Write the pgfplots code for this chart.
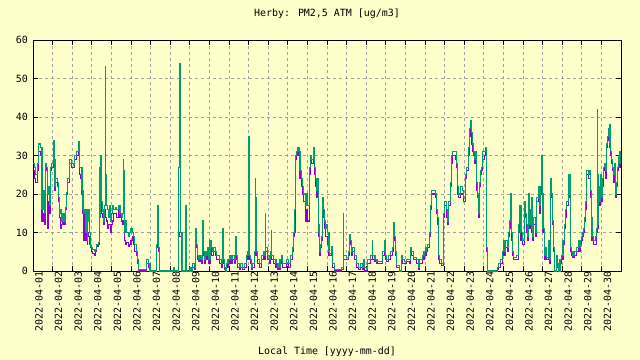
\documentclass[border=0pt]{standalone}
\usepackage{fontspec}
\setmainfont{DejaVu Sans Mono}
\usepackage{pgfplots}
\usepackage{pgfplotstable}
\pgfplotsset{compat=1.18}
\definecolor{bgy}{HTML}{FFFFCC}
\definecolor{gpurple}{HTML}{9400D3}
\definecolor{ggreen}{HTML}{009E73}
\definecolor{ggrid}{HTML}{A0A0A0}
\pgfplotstableread{
x g p
0.00 28 26
0.08 27 24
0.15 25 23
0.22 28 26
0.30 33 31
0.40 32 30
0.46 16 13
0.52 21 15
0.58 15 12
0.62 28 27
0.70 27 26
0.75 20 11
0.79 22 18
0.84 17 15
0.87 27 26
0.95 28 27
1.03 34 33
1.08 29 28
1.12 22 21
1.17 24 23
1.25 23 22
1.29 19 18
1.36 15 14
1.42 16 11
1.47 13 12
1.53 15 13
1.60 13 12
1.65 16.5 16
1.71 20.5 20
1.78 24 23
1.86 29 28
1.95 28 27
2.05 27.5 27
2.13 30 29
2.22 31 30
2.30 33.5 33
2.38 27 25
2.44 27 24
2.50 21 20
2.55 16 15
2.60 15 8
2.63 16 12
2.67 10 8
2.72 16 13
2.76 8 7
2.80 13 10
2.84 16 9
2.88 10 7
2.93 6.5 6
2.98 6 5
3.04 5.5 4.5
3.12 5 4
3.20 5.5 5
3.25 7 6.5
3.33 7.5 7
3.40 14 14
3.42 27 18
3.45 30 19
3.48 18 15
3.53 15.5 14
3.58 13 12
3.62 16 15
3.67 17 14
3.69 53 16
3.71 25 14
3.74 17 13
3.78 16 11
3.84 14 12
3.90 17 12
3.95 13 10
4.00 15 12
4.06 17 13
4.12 16 15
4.20 16.5 15
4.28 16 14
4.36 17 16
4.44 15 14
4.52 14 13
4.58 15 12
4.61 29 13
4.64 26 12
4.68 10 8
4.72 13 7
4.78 10 7.5
4.85 9 6.5
4.92 10 7
5.00 11 8
5.06 10 9
5.12 9 7
5.20 7 5
5.26 5 4
5.32 3 2
5.40 0.5 0
5.78 3 2
5.90 2 1
5.97 0 0
6.31 7 6
6.38 17 7
6.41 6 5
6.47 0 0
7.19 1 0.5
7.23 0 0
7.43 27 10
7.48 54 9
7.52 10 9
7.57 0 0
7.61 10 9
7.64 0 0
7.78 17 15
7.82 0 0
8.01 1 0.5
8.08 0 0
8.14 2 1
8.22 1 0.5
8.29 11 9
8.33 7 6
8.38 4 3
8.45 3 2.5
8.52 4 3
8.60 3 2
8.64 13 11
8.68 5 4
8.74 3 2
8.80 5 4
8.86 4 3
8.92 6 4
8.97 3 2
9.03 8 7
9.08 6 4
9.15 5 4
9.22 6 5
9.29 5 4
9.36 4 3
9.46 4 3
9.52 3 2
9.60 2 1
9.66 11 9
9.70 3 2
9.76 1 0.5
9.82 0 0
9.88 2 1
9.95 3 2
10.02 4 3
10.10 3 2
10.20 4 3
10.30 3 2
10.34 9 8
10.38 4 3
10.45 2 1
10.52 1 0.5
10.60 2 1
10.70 1 0.5
10.80 2 1
10.90 4 3
10.96 5 4
10.99 35 4
11.02 4 3
11.08 3 2
11.15 1 0.5
11.22 2 1
11.30 5 4
11.33 24 17
11.37 19 15
11.41 5 4
11.47 3 2
11.55 2 1
11.65 4 3
11.75 5 4
11.80 4 3
11.84 15 11
11.88 6 5
11.95 4 3
12.05 3 2
12.12 5 4
12.15 10.5 9
12.19 4 3
12.28 3 2
12.40 2 1
12.50 1 0.5
12.60 3 2
12.66 4 3
12.72 2 1
12.85 2 1
12.95 3 2
13.05 2 1
13.15 4 3
13.22 6 5
13.28 10 9
13.34 16 10
13.38 30 29
13.45 31 30
13.52 32 31
13.58 31 30
13.62 26 24
13.70 24 22
13.75 22 20
13.82 20 18
13.88 17 13
13.95 20 16
14.02 17 13
14.10 27 25
14.16 30 29
14.22 29 28
14.30 32 30
14.36 27 25
14.42 24 22
14.48 21 19
14.52 24 21
14.56 10 9
14.60 12 10
14.64 5 4
14.68 7 6
14.74 9 8
14.78 19 17
14.83 16 14
14.88 13 11
14.93 11 9
14.98 12 9
15.03 10 7
15.10 5 4
15.15 4.5 4
15.22 6.3 5
15.30 2 1
15.37 0.5 0
15.75 1 0.5
15.82 15 4
15.85 4 3
15.92 4 3
16.00 3.5 3
16.08 5 4
16.15 9.5 8
16.20 8 7
16.26 5 4
16.32 6 5
16.40 4 3
16.50 2 1
16.60 1 0.5
16.70 2 1
16.80 1 0.5
16.85 3 2
16.90 1 0
17.00 0.5 0
17.08 3 2
17.20 4 3
17.30 7.8 6
17.34 4 3
17.45 3 2.5
17.55 2.5 2
17.70 2.5 2
17.85 5 4
17.92 8 6
17.98 4 3
18.05 3 2.5
18.15 4 3
18.25 5 4
18.32 6 5
18.38 12.5 11
18.44 9 8
18.50 5 4
18.56 1.5 1
18.68 0 0
18.78 4 3
18.86 3 2
18.95 2.5 2
19.05 3 2.5
19.20 3 2
19.27 6 5
19.33 5 4
19.42 3.5 3
19.55 3 2
19.68 1 0.5
19.74 3 2
19.85 4 3
19.95 5 4
20.05 6 5
20.15 7 6
20.22 10 9
20.28 17 16
20.33 21 20
20.45 21 20
20.52 20 19
20.58 16 15
20.63 14 12
20.67 4 3
20.75 3 2
20.85 2 1.5
20.95 15 14
21.00 18 17
21.10 16 14
21.15 13 12
21.22 18 17
21.30 23 22
21.35 30 28
21.42 31 30
21.55 31 29
21.62 28 27
21.68 22 20
21.72 20 19
21.80 22 20
21.90 21 20
21.98 19 18
22.05 25 24
22.12 27 26
22.20 32 30
22.28 37 35
22.32 39 38
22.38 36 33
22.42 33 31
22.47 31 30
22.52 29 28
22.56 31 30
22.63 23 21
22.67 20 19
22.72 15 14
22.78 23 22
22.82 26 25
22.88 27 26
22.95 31 29
23.04 31 30
23.10 32 31
23.15 6 5
23.18 0 0
23.68 1 0.5
23.74 2 1
23.85 3 2
23.95 5 4
24.00 8 7
24.05 5 4
24.12 8 6
24.20 6 5
24.25 10 9
24.32 13 11
24.38 20 18
24.42 10 8
24.46 5 4
24.52 3.5 3
24.65 4 3
24.75 12 10
24.82 17 16
24.90 10 8
24.98 8 7
25.06 18 16
25.12 15 14
25.18 12 10
25.22 9 8
25.27 20 18
25.32 12 11
25.37 16 15
25.42 11 10
25.46 19 18
25.50 9 8
25.55 14 12
25.62 14 13
25.66 10 9
25.70 19 18
25.78 22 21
25.84 17 15
25.88 22 20
25.94 30 29
25.98 20 18
26.02 11 10
26.08 4 3
26.15 6 4
26.22 3.5 3
26.28 8 7
26.33 3 2
26.38 19 18
26.42 24 22
26.47 20 19
26.52 13 12
26.56 6 5
26.60 0 0
26.72 4 3
26.76 2 1
26.82 0 0
26.89 3 2
26.97 4 3
27.04 8 7
27.12 12 11
27.17 16 14
27.23 18 17
27.30 25 24
27.34 20 19
27.38 25 24
27.43 6 5
27.47 5 4
27.55 4 3.5
27.65 5 4
27.75 6 5
27.82 8 7
27.88 6 5
27.93 8 7
27.97 9 8
28.03 10 9
28.09 11 10
28.14 14 13
28.18 18 16
28.22 22 21
28.26 26 25
28.35 25 24
28.42 26 24
28.46 21 19
28.48 14 12
28.52 9 8
28.60 8 7
28.68 9 7
28.73 11 10
28.78 42 24
28.80 25 20
28.83 12 11
28.87 22 20
28.92 18 17
28.97 25 23
29.02 19 18
29.06 24 22
29.10 27 26
29.15 28 27
29.20 26 24
29.24 30 29
29.28 33 32
29.32 35 34
29.36 37 36
29.40 38 37
29.44 33 32
29.48 31 30
29.52 29 28
29.57 27 26
29.62 25 23
29.66 28 27
29.70 24 23
29.74 20 19
29.78 23 22
29.82 27 26
29.86 30 29
29.91 28 27
29.95 31 30
30.00 31 30
}\datatable
\begin{document}
\begin{tikzpicture}
\fill[bgy] (-33bp,-89bp) rectangle (607bp,271bp);
\useasboundingbox (-33bp,-89bp) rectangle (607bp,271bp);
\begin{axis}[
  scale only axis,
  width=588bp, height=231bp,
  xmin=0, xmax=30, ymin=0, ymax=60,
  axis background/.style={fill=bgy},
  axis line style={black, line width=1bp},
  font=\fontsize{10}{12}\selectfont,
  /pgf/number format/assume math mode=true,
  ytick={0,10,...,60},
  xtick={0,...,29},
  xticklabels={2022-04-01,2022-04-02,2022-04-03,2022-04-04,2022-04-05,2022-04-06,2022-04-07,2022-04-08,2022-04-09,2022-04-10,2022-04-11,2022-04-12,2022-04-13,2022-04-14,2022-04-15,2022-04-16,2022-04-17,2022-04-18,2022-04-19,2022-04-20,2022-04-21,2022-04-22,2022-04-23,2022-04-24,2022-04-25,2022-04-26,2022-04-27,2022-04-28,2022-04-29,2022-04-30},
  xticklabel style={rotate=90, anchor=east, inner sep=0pt, yshift=-6bp},
  yticklabel style={anchor=east, inner sep=0pt, xshift=-5bp},
  tick align=inside,
  major tick length=5bp,
  tick style={black, line width=0.8bp},
  xtick pos=both, ytick pos=both,
  grid=major,
  major grid style={ggrid, line width=0.8bp, dash pattern=on 3bp off 3bp},
  title={Herby: PM2,5 ATM [ug/m3]},
  title style={at={(0.5,1)}, anchor=center, yshift=20bp, inner sep=0pt},
  xlabel={Local Time [yyyy-mm-dd]},
  xlabel style={at={(0.5,0)}, anchor=center, yshift=-81bp, inner sep=0pt},
  every axis plot/.append style={line width=1.1bp, const plot},
]
\addplot[gpurple] table[x=x, y=p] {\datatable};
\addplot[ggreen] table[x=x, y=g] {\datatable};
\end{axis}
\end{tikzpicture}
\end{document}
